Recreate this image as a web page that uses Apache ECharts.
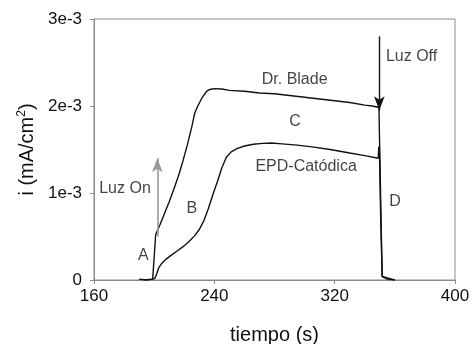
<!DOCTYPE html>
<html>
<head>
    <meta charset="utf-8">
    <title></title>
    <script src="https://cdn.jsdelivr.net/npm/echarts@6/dist/echarts.min.js"></script>
    <style>
        html, body { margin: 0; padding: 0; background: #fff; }
        #main { width: 472px; height: 344px; }
    </style>
</head>
<body>
<div id="main"></div>
<script type="text/javascript">
    // Dr. Blade curve: time (s) and current (mA/cm2)
    var bladeT = [190, 195, 199, 200, 201, 204, 207, 210, 213, 216, 219, 222, 225, 227, 229, 232, 235, 237, 240, 245, 250, 260, 270, 280, 290, 300, 310, 320, 330, 340, 345, 349, 349.4, 350.5, 351.6, 352, 355, 360];
    var bladeI = [0.00001, 0.0, 0.00001, 0.00002, 0.00052, 0.00064, 0.00077, 0.00090, 0.00104, 0.00119, 0.00136, 0.00155, 0.00176, 0.00192, 0.00200, 0.00210, 0.00217, 0.00219, 0.00220, 0.002195, 0.00218, 0.00217, 0.00215, 0.00214, 0.00212, 0.00210, 0.00208, 0.00206, 0.00204, 0.00201, 0.00200, 0.001985, 0.00202, 0.00100, 0.00004, 0.00002, 0.00001, 0.0];

    // EPD-Catodica curve
    var epdT = [193, 199, 200.5, 201.5, 203, 205, 208, 211, 215, 219, 223, 227, 230, 233, 236, 239, 242, 245, 248, 251, 255, 260, 266, 272, 278, 285, 295, 305, 317, 330, 340, 349, 349.3, 349.8, 350.6, 351.6, 352, 358, 360];
    var epdI = [0.0, 0.00001, 0.00002, 0.00006, 0.00014, 0.00019, 0.00024, 0.00028, 0.00033, 0.00038, 0.00044, 0.00051, 0.00058, 0.00068, 0.00082, 0.00098, 0.00113, 0.00129, 0.00141, 0.00147, 0.00151, 0.00154, 0.00156, 0.00157, 0.001575, 0.001565, 0.00155, 0.00153, 0.00150, 0.00146, 0.00143, 0.00140, 0.00153, 0.00145, 0.00070, 0.00004, 0.00003, 0.00001, 0.0];

    // annotation texts, anchored in data coordinates
    var noteText = ['Luz On', 'A', 'B', 'C', 'Dr. Blade', 'EPD-Catódica', 'D', 'Luz Off'];
    var noteT = [180.6, 192.8, 225, 293.6, 293.4, 301, 360.1, 371.1];
    var noteI = [0.00105, 0.000276, 0.000824, 0.00182, 0.00230, 0.00130, 0.00090, 0.00257];

    // arrows: [t, from, to]
    var luzOnArrow = [202.1, 0.00050, 0.00140];
    var luzOffArrow = [349.7, 0.00280, 0.00195];

    var xTicks = [160, 400, 80];
    var yTicks = [0, 0.003, 0.001];

    function pairs(t, v) {
        var out = [];
        for (var i = 0; i < t.length; i++) out.push([t[i], v[i]]);
        return out;
    }

    var notes = [];
    for (var i = 0; i < noteText.length; i++) {
        notes.push({value: [noteT[i], noteI[i]], label: {formatter: noteText[i]}});
    }

    var chart = echarts.init(document.getElementById('main'));
    var font = 'Liberation Sans, Arial, sans-serif';
    var option = {
        animation: false,
        grid: {left: 94, right: 17, top: 19, bottom: 64, show: true, borderColor: '#8a8a8a', borderWidth: 1,
            outerBoundsMode: 'none', containLabel: false},
        xAxis: {
            type: 'value', min: xTicks[0], max: xTicks[1], interval: xTicks[2],
            name: 'tiempo (s)', nameLocation: 'middle', nameGap: 45,
            nameTextStyle: {fontSize: 20, color: '#111', fontFamily: font},
            axisLine: {lineStyle: {color: '#8a8a8a'}},
            axisTick: {show: true, length: 4, lineStyle: {color: '#8a8a8a'}},
            axisLabel: {fontSize: 17, color: '#111', fontFamily: font, margin: 8},
            splitLine: {show: false}
        },
        yAxis: {
            type: 'value', min: yTicks[0], max: yTicks[1], interval: yTicks[2],
            name: 'i (mA/cm{sup|2})', nameLocation: 'middle', nameGap: 48,
            nameTextStyle: {fontSize: 20, color: '#111', fontFamily: font,
                rich: {sup: {fontSize: 12, verticalAlign: 'top', padding: [0, 0, 10, 0], color: '#111', fontFamily: font}}},
            axisLine: {show: true, lineStyle: {color: '#8a8a8a'}},
            axisTick: {show: true, length: 4, lineStyle: {color: '#8a8a8a'}},
            axisLabel: {
                fontSize: 17, color: '#111', fontFamily: font, margin: 12,
                formatter: function (v) { return v === 0 ? '0' : Math.round(v * 1000) + 'e-3'; }
            },
            splitLine: {show: false}
        },
        series: [{
            type: 'line', data: pairs(bladeT, bladeI), symbol: 'none',
            lineStyle: {color: '#111', width: 1.4},
            markLine: {
                silent: true, symbol: ['none', 'arrow'], symbolSize: [8, 14],
                label: {show: false},
                data: [
                    [{coord: [luzOnArrow[0], luzOnArrow[1]], lineStyle: {color: '#999', width: 1.6, type: 'solid'}},
                        {coord: [luzOnArrow[0], luzOnArrow[2]]}],
                    [{coord: [luzOffArrow[0], luzOffArrow[1]], lineStyle: {color: '#111', width: 1.4, type: 'solid'}},
                        {coord: [luzOffArrow[0], luzOffArrow[2]]}]
                ]
            }
        }, {
            type: 'line', data: pairs(epdT, epdI), symbol: 'none',
            lineStyle: {color: '#111', width: 1.4}
        }, {
            type: 'scatter', data: notes, symbolSize: 0, silent: true,
            label: {show: true, position: 'inside', fontSize: 16, color: '#111', fontFamily: font}
        }]
    };
    chart.setOption(option);
</script>
</body>
</html>
